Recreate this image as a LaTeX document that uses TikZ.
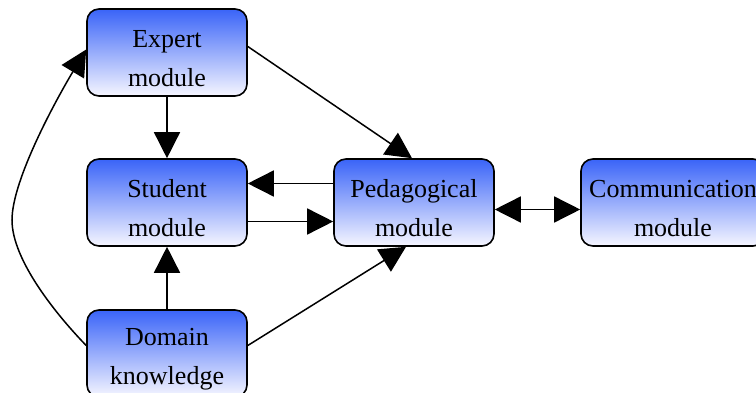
\documentclass[tikz,border=0pt]{standalone}
\usepackage{fontspec}
\setmainfont{Liberation Serif}
\usetikzlibrary{arrows.meta}
\definecolor{boxtop}{RGB}{58,100,248}
\definecolor{boxbot}{RGB}{246,246,255}
\tikzset{
  module/.style={draw=black, line width=1.6pt, rounded corners=12pt,
    top color=boxtop, bottom color=boxbot, minimum width=160pt,
    minimum height=87pt, inner sep=0pt},
  caption/.style={align=center, inner sep=0pt, yshift=-6pt,
    font=\fontsize{26}{39}\selectfont},
  link/.style={line width=1.5pt, -{Triangle[length=26pt,width=26pt]}},
  duallink/.style={line width=1.5pt, {Triangle[length=26pt,width=26pt]}-{Triangle[length=26pt,width=26pt]}}
}
\begin{document}
\begin{tikzpicture}[x=1pt,y=-1pt]
\useasboundingbox (0,0) rectangle (756,393);
\begin{scope}
\clip (0,0) rectangle (756,393);
\node[module, label={[caption]center:Expert\\module}] (exp) at (167,52.5) {};
\node[module, label={[caption]center:Student\\module}] (stu) at (167,202.5) {};
\node[module, label={[caption]center:Pedagogical\\module}] (ped) at (414,202.5) {};
\node[module, minimum width=184pt, label={[caption]center:Communication\\module}] (com) at (673,202.5) {};
\node[module, label={[caption]center:Domain\\knowledge}] (dom) at (167,353.5) {};
\coordinate (bend) at (12,220);

\draw[link] (exp) -- (stu);
\draw[link] ([yshift=6pt]exp.east) -- ([xshift=-2pt]ped.north);
\draw[link] ([yshift=19pt]ped.west) -- ([yshift=19pt]stu.east);
\draw[link] ([yshift=-19pt]stu.east) -- ([yshift=-19pt]ped.west);
\draw[link] (dom) -- (stu);
\draw[link] ([yshift=8pt]dom.east) -- ([xshift=-8pt]ped.south);
\draw[duallink] ([yshift=-7pt]ped.east) -- ([yshift=-7pt]com.west);
\draw[link] ([yshift=8pt]dom.west) .. controls +(-30,-31) and +(0,40) .. (bend)
  .. controls +(0,-40) and +(-30,50) .. ([yshift=3pt]exp.west);
\end{scope}
\end{tikzpicture}
\end{document}
